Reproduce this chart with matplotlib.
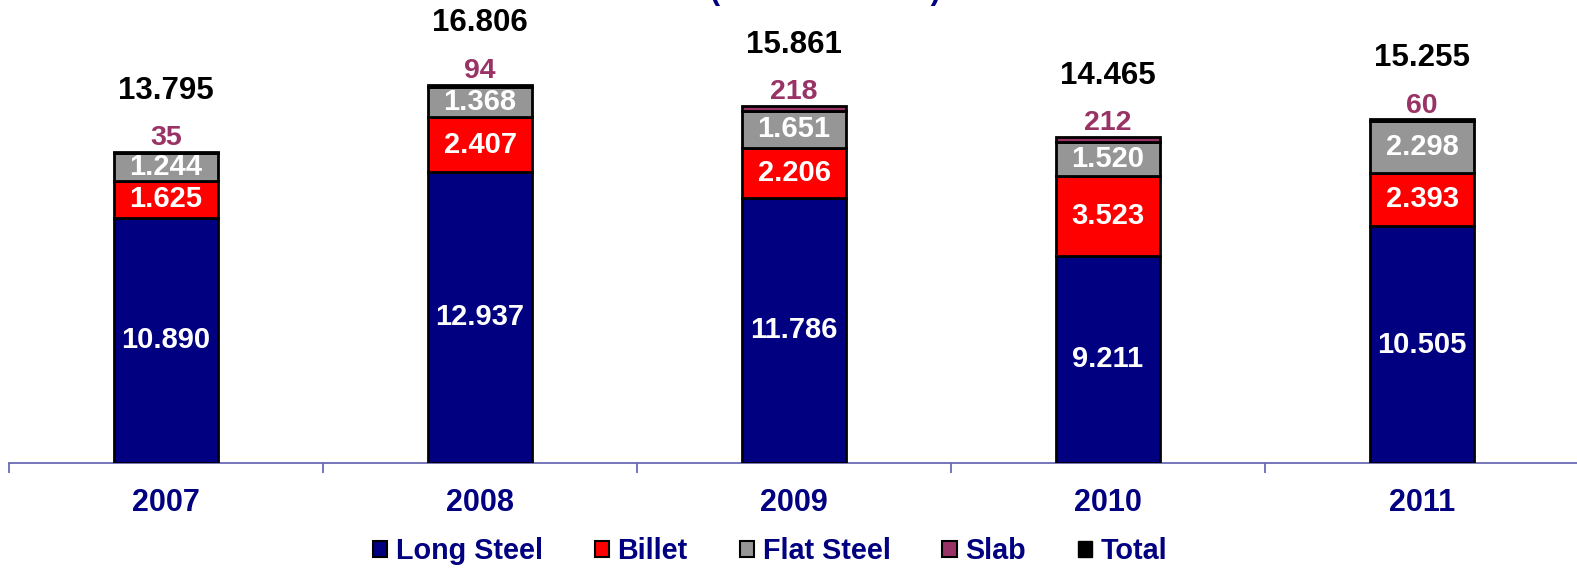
import matplotlib
matplotlib.use('Agg')
import matplotlib.pyplot as plt
from matplotlib.patches import Patch

years = ['2007', '2008', '2009', '2010', '2011']
long_steel = [10890, 12937, 11786, 9211, 10505]
billet = [1625, 2407, 2206, 3523, 2393]
flat_steel = [1244, 1368, 1651, 1520, 2298]
slab = [35, 94, 218, 212, 60]
total = [13795, 16806, 15861, 14465, 15255]

navy = '#000080'
colors = {'Long Steel': navy, 'Billet': '#ff0000', 'Flat Steel': '#969696', 'Slab': '#993366'}

plt.rcParams['font.family'] = ['Liberation Sans', 'DejaVu Sans']
plt.rcParams['font.weight'] = 'bold'

fig = plt.figure(figsize=(15.77, 5.68), dpi=100)
ax = fig.add_axes([9 / 1577, 105 / 568, 1570 / 1577, 463 / 568])

def fmt(v):
    return f'{v / 1000:.3f}' if v >= 1000 else str(v)

x = list(range(len(years)))
bottom = [0] * len(years)
for name, vals in [('Long Steel', long_steel), ('Billet', billet), ('Flat Steel', flat_steel), ('Slab', slab)]:
    ax.bar(x, vals, 0.33, bottom=bottom, color=colors[name], edgecolor='black', linewidth=2, zorder=3)
    if name != 'Slab':
        for xi, b, v in zip(x, bottom, vals):
            ax.text(xi, b + v / 2, fmt(v), ha='center', va='center', color='white', fontsize=21, fontweight='bold', zorder=4)
    bottom = [b + v for b, v in zip(bottom, vals)]

for xi, top, s, t in zip(x, bottom, slab, total):
    ax.annotate(fmt(s), (xi, top), xytext=(0, 10), textcoords='offset points', ha='center', va='center',
                color='#993366', fontsize=20.5, fontweight='bold')
    ax.annotate(fmt(t), (xi, top), xytext=(0, 44), textcoords='offset points', ha='center', va='center',
                color='black', fontsize=22.5, fontweight='bold')

ax.set_xlim(-0.5, 4.5)
ax.set_ylim(0, 20560)
for s in ['top', 'right', 'left']:
    ax.spines[s].set_visible(False)
ax.spines['bottom'].set_color('#6a6ab4')
ax.spines['bottom'].set_linewidth(1.3)
ax.set_yticks([])
ax.set_xticks(x)
ax.set_xticklabels(years, fontsize=22, fontweight='bold', color=navy)
ax.tick_params(axis='x', which='major', length=0, pad=18)
ax.set_xticks([i - 0.5 for i in range(len(years) + 1)], minor=True)
ax.tick_params(axis='x', which='minor', length=7.5, width=1.3, color='#6a6ab4', direction='out')

handles = [Patch(facecolor=c, edgecolor='black', linewidth=1.5, label=n) for n, c in colors.items()]
handles.append(Patch(facecolor='black', edgecolor='black', label='Total'))
leg = fig.legend(handles=handles, loc='center', bbox_to_anchor=(770 / 1577, 1 - 551 / 568), ncol=5,
                 frameon=False, fontsize=20.7, handlelength=0.5, handleheight=0.5, handletextpad=0.3,
                 columnspacing=1.8, borderpad=0)
for t in leg.get_texts():
    t.set_color(navy)
    t.set_fontweight('bold')

fig.text(825 / 1577, 1 + 1 / 568, '(thousand tons)', ha='center', va='baseline', color=navy,
         fontsize=22, fontweight='bold')

fig.savefig('out.png', dpi=100)
